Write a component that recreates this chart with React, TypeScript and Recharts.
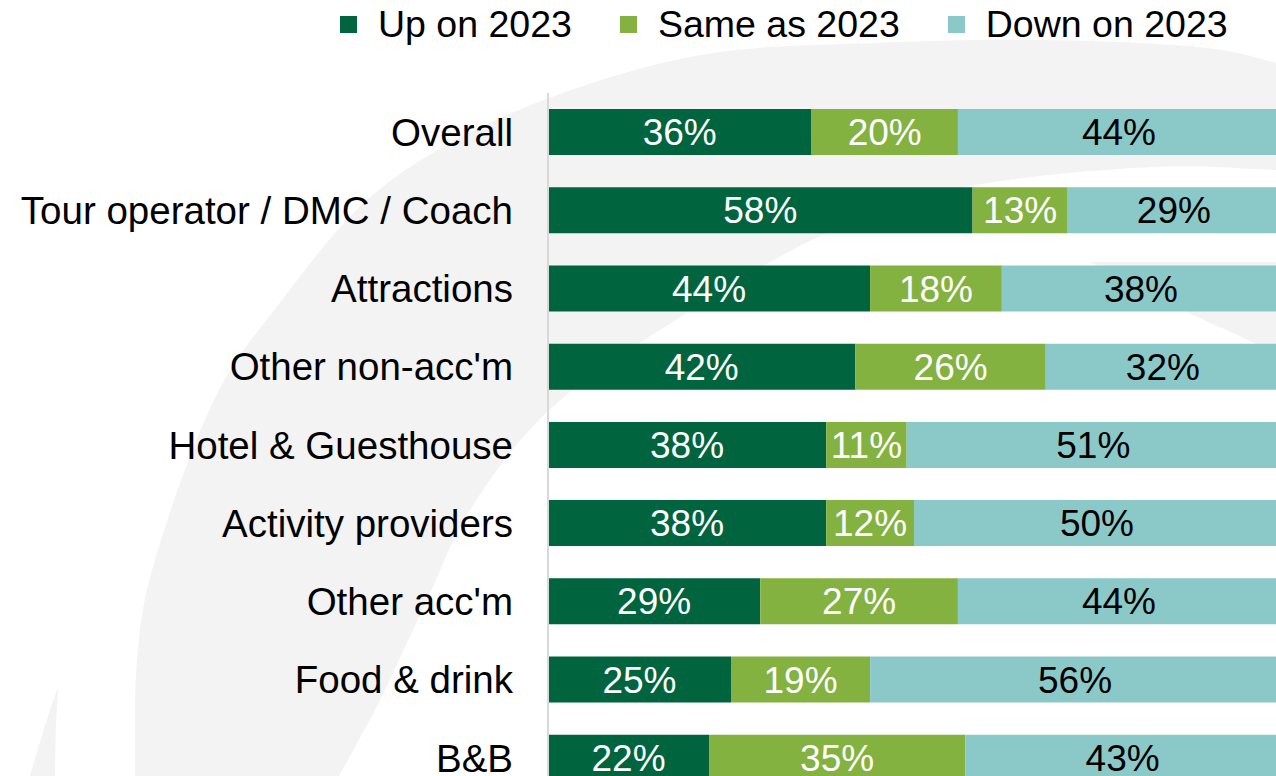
import { BarChart, Bar, XAxis, YAxis, Legend, LabelList } from "recharts";

const categories = [
  "Overall",
  "Tour operator / DMC / Coach",
  "Attractions",
  "Other non-acc'm",
  "Hotel & Guesthouse",
  "Activity providers",
  "Other acc'm",
  "Food & drink",
  "B&B",
];

const seriesNames = ["Up on 2023", "Same as 2023", "Down on 2023"];
const upOn2023 = [36, 58, 44, 42, 38, 38, 29, 25, 22];
const sameAs2023 = [20, 13, 18, 26, 11, 12, 27, 19, 35];
const downOn2023 = [44, 29, 38, 32, 51, 50, 44, 56, 43];

const FONT = '"Liberation Sans", Arial, sans-serif';
const DARK_GREEN = "#00643f";
const LIGHT_GREEN = "#84b240";
const TEAL = "#8bc9c8";
const SWOOSH = "#f3f3f3";

const data = categories.map((name, i) => ({
  name,
  up: upOn2023[i],
  same: sameAs2023[i],
  down: downOn2023[i],
}));

type Pt = [number, number];

// catmull-rom through the points, turned into cubic beziers
function smooth(pts: Pt[]) {
  let d = "";
  for (let i = 0; i < pts.length - 1; i++) {
    const p0 = pts[i - 1] || pts[i];
    const p1 = pts[i];
    const p2 = pts[i + 1];
    const p3 = pts[i + 2] || p2;
    const c1x = p1[0] + (p2[0] - p0[0]) / 6;
    const c1y = p1[1] + (p2[1] - p0[1]) / 6;
    const c2x = p2[0] - (p3[0] - p1[0]) / 6;
    const c2y = p2[1] - (p3[1] - p1[1]) / 6;
    d += ` C${c1x},${c1y} ${c2x},${c2y} ${p2[0]},${p2[1]}`;
  }
  return d;
}

const outerEdge: Pt[] = [
  [135, 776], [137, 660], [155, 560], [214, 400], [282, 300], [367, 200],
  [469, 133], [592, 83], [720, 52], [873, 43], [1040, 40], [1198, 47],
  [1276, 63], [1320, 80],
];
const innerEdge: Pt[] = [
  [1320, 172], [1276, 170], [1152, 167], [966, 187], [822, 235], [660, 330],
  [546, 413], [470, 510], [427, 600], [380, 700], [339, 776],
];
const rightTip: Pt[] = [
  [1300, 380], [1276, 360], [1254, 343], [1189, 313], [1130, 282], [1090, 262],
];

function Backdrop() {
  const band =
    `M${outerEdge[0]}` + smooth(outerEdge) +
    ` L${innerEdge[0]}` + smooth(innerEdge) + " Z";
  const tip = `M1090,262 L1300,262 L1300,380` + smooth(rightTip) + " Z";
  return (
    <svg width={1276} height={776} style={{ position: "absolute", left: 0, top: 0 }}>
      <path d={band} fill={SWOOSH} />
      <path d={tip} fill={SWOOSH} />
      <path d="M30,776 Q46,720 58,687 Q55,730 55,776 Z" fill={SWOOSH} />
    </svg>
  );
}

function LegendRow(props: any) {
  const items = [...(props.payload || [])].sort(
    (a: any, b: any) => seriesNames.indexOf(a.value) - seriesNames.indexOf(b.value)
  );
  return (
    <div
      style={{
        height: 93,
        display: "flex",
        alignItems: "flex-start",
        paddingLeft: 340,
        fontFamily: FONT,
        fontSize: 37.5,
        color: "#000",
      }}
    >
      {items.map((it: any) => (
        <div
          key={it.value}
          style={{ display: "flex", alignItems: "center", height: 48, marginRight: 48 }}
        >
          <span
            style={{ width: 17, height: 17, background: it.color, marginRight: 21, display: "inline-block" }}
          />
          <span style={{ lineHeight: "48px" }}>{it.value}</span>
        </div>
      ))}
    </div>
  );
}

const pct = (v: any) => `${v}%`;

export default function App() {
  return (
    <div
      style={{
        position: "fixed",
        left: 0,
        top: 0,
        width: 1276,
        height: 776,
        overflow: "hidden",
        background: "#fff",
        fontFamily: FONT,
      }}
    >
      <Backdrop />
      <div style={{ position: "absolute", left: 0, top: 0 }}>
        <BarChart
          width={1280}
          height={797}
          data={data}
          layout="vertical"
          margin={{ top: 0, right: 0, bottom: 0, left: 0 }}
        >
          <Legend
            verticalAlign="top"
            align="left"
            content={LegendRow}
            wrapperStyle={{ top: 0, left: 0, width: 1276, height: 93 }}
          />
          <XAxis type="number" domain={[0, 100]} hide />
          <YAxis
            type="category"
            dataKey="name"
            width={548}
            axisLine={{ stroke: "#d9d9d9", strokeWidth: 2 }}
            tickLine={false}
            tickSize={0}
            tickMargin={35}
            interval={0}
            tick={{ fill: "#000", fontSize: 38.5, fontFamily: FONT }}
          />
          <Bar dataKey="up" name={seriesNames[0]} stackId="a" fill={DARK_GREEN} barSize={46} isAnimationActive={false}>
            <LabelList dataKey="up" position="center" fill="#fff" fontSize={37} fontFamily={FONT} formatter={pct} />
          </Bar>
          <Bar dataKey="same" name={seriesNames[1]} stackId="a" fill={LIGHT_GREEN} barSize={46} isAnimationActive={false}>
            <LabelList dataKey="same" position="center" fill="#fff" fontSize={37} fontFamily={FONT} formatter={pct} />
          </Bar>
          <Bar dataKey="down" name={seriesNames[2]} stackId="a" fill={TEAL} barSize={46} isAnimationActive={false}>
            <LabelList dataKey="down" position="center" fill="#000" fontSize={37} fontFamily={FONT} formatter={pct} />
          </Bar>
        </BarChart>
      </div>
    </div>
  );
}
